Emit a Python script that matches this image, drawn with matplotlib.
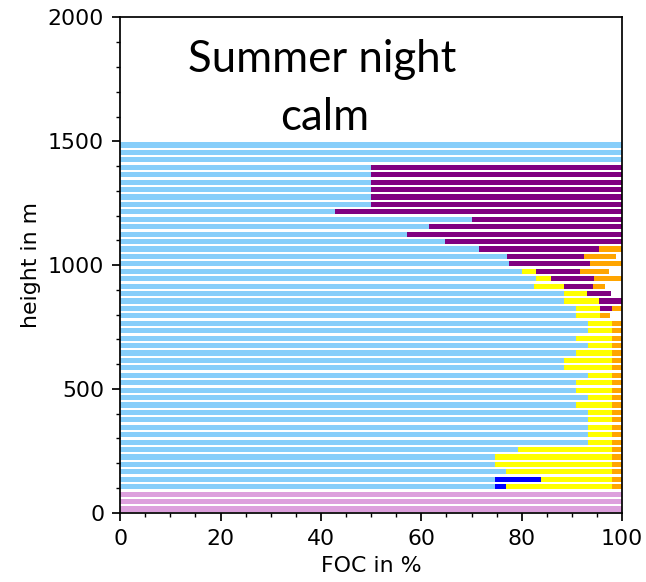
import numpy as np
import matplotlib
matplotlib.use('Agg')
import matplotlib.pyplot as plt

# height levels (m), bottom to top, every 30 m
heights = np.arange(15, 1500, 30)

# frequency of occurrence (%) per class and level, bottom to top
clear = [0, 0, 0, 74.6, 74.6, 76.9, 74.6, 74.6, 79.2,
         93.3, 93.3, 93.3, 93.3, 93.3, 90.9, 93.3, 90.9, 90.9, 93.3,
         88.5, 88.5, 90.9, 93.3, 90.9, 93.3, 93.3, 90.9, 90.9, 88.4,
         88.4, 82.5, 82.9, 80.1, 77.5, 77.0, 71.5, 64.8, 57.2, 61.6,
         70.1, 42.9, 50, 50, 50, 50, 50, 50, 100, 100, 100]
blue = [0, 0, 0, 2.3, 9.3] + [0] * 45
yellow = [0, 0, 0, 21.0, 14.0, 21.0, 23.3, 23.3, 18.7,
          4.6, 4.6, 4.6, 4.6, 4.6, 7.0, 4.6, 7.0, 7.0, 4.6,
          9.4, 9.4, 7.0, 4.6, 7.0, 4.6, 4.6, 4.6, 4.6, 7.0,
          4.6, 5.9, 3.0, 2.8] + [0] * 17
purple = [0] * 26 + [0, 2.4, 4.6, 4.7, 5.9, 8.5, 8.8, 16.2, 15.5,
                     23.9, 35.2, 42.8, 38.4, 29.9, 57.1,
                     50, 50, 50, 50, 50, 50, 0, 0, 0]
orange = [0, 0, 0, 2.1, 2.1, 2.1, 2.1, 2.1, 2.1,
          2.1, 2.1, 2.1, 2.1, 2.1, 2.1, 2.1, 2.1, 2.1, 2.1,
          2.1, 2.1, 2.1, 2.1, 2.1, 2.1, 2.1, 2.1, 4.5, 2.1,
          0, 2.3, 5.7, 5.6, 8.3, 6.3, 7.5, 4.6] + [0] * 13
nodata = [100, 100, 100] + [0] * 47

classes = [clear, blue, yellow, purple, orange, nodata]
colors = ['lightskyblue', 'blue', 'yellow', 'purple', 'orange', 'plum']

fig = plt.figure(figsize=(6.46, 5.82), dpi=100)
ax = fig.add_axes([0.186, 0.119, 0.777, 0.851])

left = np.zeros(len(heights))
for vals, c in zip(classes, colors):
    vals = np.array(vals, dtype=float)
    ax.barh(heights, vals, height=21, left=left, color=c, linewidth=0)
    left += vals

ax.set_xlim(0, 100)
ax.set_ylim(0, 2000)
ax.set_xticks(np.arange(0, 101, 20))
ax.set_xticks(np.arange(0, 101, 5), minor=True)
ax.set_yticks(np.arange(0, 2001, 500))
ax.set_yticks(np.arange(0, 2001, 100), minor=True)
ax.tick_params(labelsize=15.8, width=1.25, length=5.5, pad=6)
ax.tick_params(which='minor', width=1, length=3.2)
for s in ax.spines.values():
    s.set_linewidth(1.25)

ax.set_xlabel('FOC in %', fontsize=15.8, labelpad=5)
ax.set_ylabel('height in m', fontsize=15.8, labelpad=5)

ax.text(40.2, 1780, 'Summer night', ha='center', va='baseline',
        fontsize=31.5, family='Lato')
ax.text(40.8, 1545, 'calm', ha='center', va='baseline',
        fontsize=31.5, family='Lato')

fig.savefig('out.png', dpi=100)
